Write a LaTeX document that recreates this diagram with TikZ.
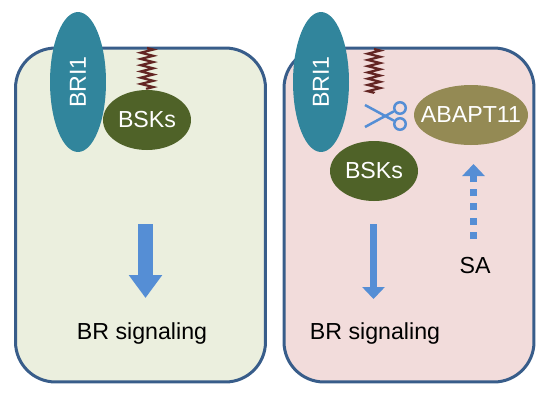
\documentclass[tikz,border=0pt]{standalone}
\usepackage{fontspec}
\setmainfont{Liberation Sans}
\usetikzlibrary{shapes.geometric,arrows.meta,decorations.pathmorphing}
\definecolor{cellline}{HTML}{385D8A}
\definecolor{cellgreen}{HTML}{EBEFDE}
\definecolor{cellpink}{HTML}{F2DCDB}
\definecolor{bricolor}{HTML}{31859C}
\definecolor{bskcolor}{HTML}{4F6228}
\definecolor{abacolor}{HTML}{948A54}
\definecolor{arrcolor}{HTML}{558ED5}
\definecolor{springcolor}{HTML}{632523}

\begin{document}
\begin{tikzpicture}[
  x=0.02cm, y=-0.02cm,
  cell/.style   = {draw=cellline, line width=0.06cm, rounded corners=0.8cm,
                   minimum width=5cm, minimum height=6.68cm},
  oval/.style   = {ellipse, inner sep=0pt, text=white, font=\fontsize{13.2}{15}\selectfont},
  bri/.style    = {oval, fill=bricolor, minimum width=2.8cm, minimum height=1.12cm, rotate=90},
  bsk/.style    = {oval, fill=bskcolor, minimum width=1.76cm, minimum height=1.2cm},
  aba/.style    = {oval, fill=abacolor, inner xsep=-0.22cm, minimum width=2.28cm, minimum height=1.2cm},
  spring/.style = {draw=springcolor, line width=0.045cm,
                   decorate, decoration={zigzag, segment length=0.125cm, amplitude=0.125cm}},
  txt/.style    = {font=\fontsize{13.2}{15}\selectfont, inner sep=0pt},
  ring/.style   = {circle, draw=arrcolor, line width=0.05cm, minimum size=0.23cm, inner sep=0pt},
  blade/.style  = {draw=arrcolor, line width=0.05cm},
  bigarr/.style = {-{Triangle[length=0.46cm, width=0.64cm]}, arrcolor, line width=0.3cm},
  arr/.style    = {-{Triangle[length=0.24cm, width=0.44cm]}, arrcolor, line width=0.14cm},
  dotarr/.style = {arrcolor, line width=0.14cm, dash pattern=on 0.14cm off 0.146cm},
]
\useasboundingbox (0,0) rectangle (550,400);
% left cell
\node[cell, fill=cellgreen] (cellA) at (140.5,215) {};
\coordinate (topA) at (147,48);
\node[bsk] (bskA) at (147,120) {BSKs};
\draw[spring] (topA) -- (bskA.north);
\node[bri] (briA) at (78,82) {BRI1};
\coordinate (startA) at (145.5,224);
\coordinate (endA) at (145.5,298);
\draw[bigarr] (startA) -- (endA);
\node[txt] (sigA) at (142,333) {BR signaling};
% right cell
\node[cell, fill=cellpink] (cellB) at (409,215) {};
\coordinate (topB) at (374,49);
\coordinate (endspringB) at (374,93);
\draw[spring] (topB) -- (endspringB);
\node[bri] (briB) at (321,82) {BRI1};
\node[bsk] (bskB) at (374,171) {BSKs};
\node[aba] (abaB) at (471,115) {ABAPT11};
% scissors
\node[ring] (ringa) at (400,108) {};
\node[ring] (ringb) at (400,124) {};
\coordinate (tipa) at (365,105);
\coordinate (tipb) at (365,127);
\draw[blade] (tipa) -- (ringb);
\draw[blade] (tipb) -- (ringa);
% right arrows
\coordinate (startB) at (373.5,224);
\coordinate (endB) at (373.5,299);
\draw[arr] (startB) -- (endB);
\coordinate (startC) at (473.5,239);
\coordinate (midC) at (473.5,182);
\coordinate (endC) at (473.5,164);
\draw[dotarr] (startC) -- (midC);
\draw[arr] (midC) -- (endC);
\node[txt] (sa) at (475,266) {SA};
\node[txt] (sigB) at (375,333) {BR signaling};
\end{tikzpicture}
\end{document}
